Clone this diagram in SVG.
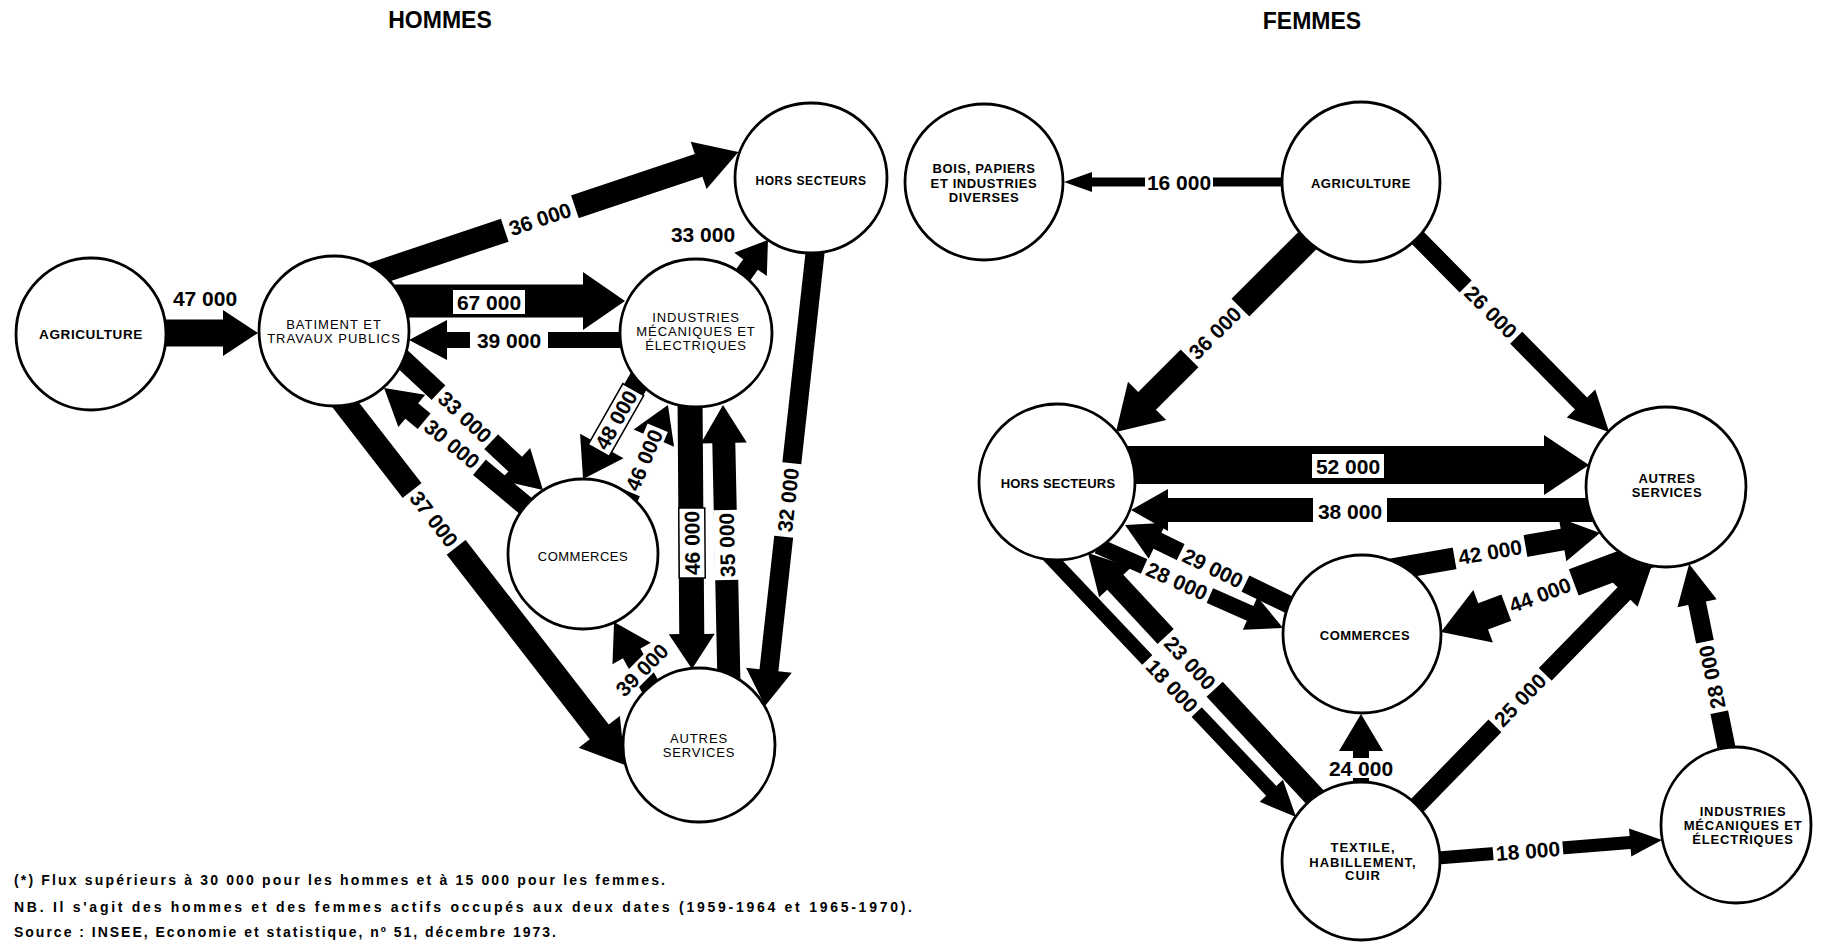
<svg xmlns="http://www.w3.org/2000/svg" width="1823" height="945" viewBox="0 0 1823 945">
<style>
.nd ellipse{fill:#fff;stroke:#000;stroke-width:2.8}
.ar path{fill:#000}
.gp{fill:#fff}
.bx{fill:#fff;stroke:#000;stroke-width:1.5}
.v{font-family:"Liberation Sans",Arial,sans-serif;font-weight:bold;font-size:21px;text-anchor:middle;fill:#000}
.lr{font-family:"Liberation Sans",Arial,sans-serif;font-size:13px;text-anchor:middle;fill:#000;letter-spacing:0.9px}
.lb{font-family:"Liberation Sans",Arial,sans-serif;font-weight:bold;font-size:13px;text-anchor:middle;fill:#000;letter-spacing:0.6px}
.tt{font-family:"Liberation Sans",Arial,sans-serif;font-weight:bold;font-size:23px;text-anchor:middle;fill:#000}
.fn{font-family:"Liberation Sans",Arial,sans-serif;font-weight:bold;font-size:14px;fill:#000}
</style>
<rect width="1823" height="945" fill="#fff"/>
<text class="tt" x="440" y="28">HOMMES</text>
<text class="tt" x="1312" y="29">FEMMES</text>

<g id="connectors">
<g class="ar">
<!-- HOMMES -->
<path transform="translate(166,333)" d="M0,-13.5H57V-23L92,0L57,23V13.5H0Z"/>
<path transform="translate(368.6,275.8) rotate(-18.5)" d="M0,-12H348V-25L390,0L348,25V12H0Z"/>
<path transform="translate(395,301)" d="M0,-16.5H188V-29L230,0L188,29V16.5H0Z"/>
<path transform="translate(632,340) rotate(180)" d="M0,-8H185V-20L223,0L185,20V8H0Z"/>
<path transform="translate(738,282) rotate(-54.5)" d="M0,-9H21.6V-20L51.6,0L21.6,20V9H0Z"/>
<path transform="translate(817,235) rotate(96.3)" d="M0,-9.5H437.9V-23L473.9,0L437.9,23V9.5H0Z"/>
<path transform="translate(690,395) rotate(89.58)" d="M0,-12.5H239V-23L274,0L239,23V12.5H0Z"/>
<path transform="translate(729,685) rotate(-91.23)" d="M0,-11.5H242.1V-23L280.1,0L242.1,23V11.5H0Z"/>
<path transform="translate(397,354) rotate(42.97)" d="M0,-10H161.5V-22L199.5,0L161.5,22V10H0Z"/>
<path transform="translate(533,512) rotate(-140.2)" d="M0,-10H157.8V-21L193.8,0L157.8,21V10H0Z"/>
<path transform="translate(338,395) rotate(52.2)" d="M0,-12H426.3V-26L468.3,0L426.3,26V12H0Z"/>
<path transform="translate(645,370) rotate(119.6)" d="M0,-11H87.4V-25L125.4,0L87.4,25V11H0Z"/>
<path transform="translate(624,508) rotate(-66.9)" d="M0,-10H76V-22L112,0L76,22V10H0Z"/>
<path transform="translate(655,695) rotate(-119.3)" d="M0,-10H47.7V-22L83.7,0L47.7,22V10H0Z"/>
<!-- FEMMES -->
<path transform="translate(1290,182) rotate(180)" d="M0,-4.5H198V-10L226,0L198,10V4.5H0Z"/>
<path transform="translate(1318,230) rotate(135)" d="M0,-12.5H241.7V-27L285.7,0L241.7,27V12.5H0Z"/>
<path transform="translate(1408,228) rotate(45.4)" d="M0,-8.5H246.4V-20L286.4,0L246.4,20V8.5H0Z"/>
<path transform="translate(1120,465)" d="M0,-19H424V-30L469,0L424,30V19H0Z"/>
<path transform="translate(1600,510) rotate(180)" d="M0,-12H432V-21L469,0L432,21V12H0Z"/>
<path transform="translate(1388,570) rotate(-9.9)" d="M0,-11H177.2V-22L215.2,0L177.2,22V11H0Z"/>
<path transform="translate(1655,552) rotate(159.5)" d="M0,-14H183.5V-28L228.5,0L183.5,28V14H0Z"/>
<path transform="translate(1300,610) rotate(-154.1)" d="M0,-9H158.5V-20L194.5,0L158.5,20V9H0Z"/>
<path transform="translate(1098,546) rotate(23.9)" d="M0,-8H166.4V-18L202.4,0L166.4,18V8H0Z"/>
<path transform="translate(1325,808) rotate(-132.9)" d="M0,-11H308.1V-22L348.1,0L308.1,22V11H0Z"/>
<path transform="translate(1045,552) rotate(46.55)" d="M0,-7H329V-16L365,0L329,16V7H0Z"/>
<path transform="translate(1361,795) rotate(-90)" d="M0,-8H44V-22L81,0L44,22V8H0Z"/>
<path transform="translate(1405,818) rotate(-45.7)" d="M0,-9H313.6V-19L353.6,0L313.6,19V9H0Z"/>
<path transform="translate(1425,859) rotate(-4.58)" d="M0,-6.5H205.8V-14L237.8,0L205.8,14V6.5H0Z"/>
<path transform="translate(1729,760) rotate(-101.5)" d="M0,-9H160V-20L200,0L160,20V9H0Z"/>
</g>
<g id="labels">
<!-- HOMMES -->
<text class="v" x="205" y="306">47 000</text>
<g transform="translate(540,219) rotate(-18.5)"><rect class="gp" x="-37" y="-14" width="74" height="28"/><text class="v" y="7.5">36 000</text></g>
<g transform="translate(489,302)"><rect class="gp" x="-36" y="-12" width="72" height="24"/><text class="v" y="7.5">67 000</text></g>
<g transform="translate(509,340)"><rect class="gp" x="-39" y="-11" width="78" height="22"/><text class="v" y="7.5">39 000</text></g>
<text class="v" x="703" y="242">33 000</text>
<g transform="translate(788,500) rotate(-83.7)"><rect class="gp" x="-37" y="-12" width="74" height="24"/><text class="v" y="7.5">32 000</text></g>
<g transform="translate(692,543) rotate(-90.4)"><rect class="bx" x="-35" y="-13" width="70" height="26"/><text class="v" y="7.5">46 000</text></g>
<g transform="translate(727,545) rotate(-91.2)"><rect class="gp" x="-35" y="-13" width="70" height="26"/><text class="v" y="7.5">35 000</text></g>
<g transform="translate(465,417) rotate(43)"><rect class="gp" x="-36" y="-12" width="72" height="24"/><text class="v" y="7.5">33 000</text></g>
<g transform="translate(452,444) rotate(39.8)"><rect class="gp" x="-36" y="-12" width="72" height="24"/><text class="v" y="7.5">30 000</text></g>
<g transform="translate(434,519) rotate(52.2)"><rect class="gp" x="-36" y="-14" width="72" height="28"/><text class="v" y="7.5">37 000</text></g>
<g transform="translate(616,420) rotate(-60.4)"><rect class="bx" x="-35" y="-12" width="70" height="24"/><text class="v" y="7.5">48 000</text></g>
<g transform="translate(644,460) rotate(-66.9)"><rect class="gp" x="-35" y="-11" width="70" height="22"/><text class="v" y="7.5">46 000</text></g>
<g transform="translate(642,670) rotate(-45)"><rect class="gp" x="-35" y="-10" width="70" height="20"/><text class="v" y="7.5">39 000</text></g>
<!-- FEMMES -->
<g transform="translate(1179,182)"><rect class="gp" x="-34" y="-11" width="68" height="22"/><text class="v" y="7.5">16 000</text></g>
<g transform="translate(1215,333) rotate(-45)"><rect class="gp" x="-36" y="-14" width="72" height="28"/><text class="v" y="7.5">36 000</text></g>
<g transform="translate(1491,312) rotate(45.4)"><rect class="gp" x="-36" y="-10" width="72" height="20"/><text class="v" y="7.5">26 000</text></g>
<g transform="translate(1348,466)"><rect class="gp" x="-36" y="-12" width="72" height="24"/><text class="v" y="7.5">52 000</text></g>
<g transform="translate(1350,511)"><rect class="gp" x="-37" y="-13" width="74" height="26"/><text class="v" y="7.5">38 000</text></g>
<g transform="translate(1490,552) rotate(-9.9)"><rect class="gp" x="-36" y="-12" width="72" height="24"/><text class="v" y="7.5">42 000</text></g>
<g transform="translate(1540,595) rotate(-20.5)"><rect class="gp" x="-36" y="-15" width="72" height="30"/><text class="v" y="7.5">44 000</text></g>
<g transform="translate(1213,568) rotate(25.9)"><rect class="gp" x="-36" y="-10" width="72" height="20"/><text class="v" y="7.5">29 000</text></g>
<g transform="translate(1177,581) rotate(23.9)"><rect class="gp" x="-36" y="-9" width="72" height="18"/><text class="v" y="7.5">28 000</text></g>
<g transform="translate(1190,663) rotate(47.1)"><rect class="gp" x="-36" y="-12" width="72" height="24"/><text class="v" y="7.5">23 000</text></g>
<g transform="translate(1172,686) rotate(46.5)"><rect class="gp" x="-36" y="-8" width="72" height="16"/><text class="v" y="7.5">18 000</text></g>
<g transform="translate(1361,768)"><rect class="gp" x="-34" y="-10" width="68" height="20"/><text class="v" y="7.5">24 000</text></g>
<g transform="translate(1520,700) rotate(-45.7)"><rect class="gp" x="-36" y="-10" width="72" height="20"/><text class="v" y="7.5">25 000</text></g>
<g transform="translate(1528,851) rotate(-4.6)"><rect class="gp" x="-35" y="-8" width="70" height="16"/><text class="v" y="7.5">18 000</text></g>
<g transform="translate(1712,677) rotate(-101.5)"><rect class="gp" x="-36" y="-10" width="72" height="20"/><text class="v" y="7.5">28 000</text></g>
</g>
</g>

<g class="nd">
<g id="h-agriculture"><ellipse cx="91" cy="334" rx="75" ry="76"/><text class="lb" x="91" y="338.5" style="font-size:13.5px">AGRICULTURE</text></g>
<g id="h-batiment"><ellipse cx="334" cy="331" rx="75" ry="75"/><text class="lr" x="334" y="328.5" style="letter-spacing:1px">BATIMENT ET</text><text class="lr" x="334" y="343" style="letter-spacing:1px">TRAVAUX PUBLICS</text></g>
<g id="h-hors-secteurs"><ellipse cx="811" cy="178" rx="76" ry="75"/><text class="lb" x="811" y="184.5" style="font-size:12px">HORS SECTEURS</text></g>
<g id="h-industries"><ellipse cx="696" cy="333" rx="76" ry="74"/><text class="lr" x="696" y="321.5">INDUSTRIES</text><text class="lr" x="696" y="335.5">MÉCANIQUES ET</text><text class="lr" x="696" y="349.5">ÉLECTRIQUES</text></g>
<g id="h-commerces"><ellipse cx="583" cy="554" rx="75" ry="75"/><text class="lr" x="583" y="561" style="letter-spacing:0.5px">COMMERCES</text></g>
<g id="h-autres-services"><ellipse cx="699" cy="745" rx="76" ry="77"/><text class="lr" x="699" y="742.5">AUTRES</text><text class="lr" x="699" y="756.5">SERVICES</text></g>

<g id="f-bois"><ellipse cx="984" cy="182" rx="79" ry="78"/><text class="lb" x="984" y="172.5">BOIS, PAPIERS</text><text class="lb" x="984" y="187.5">ET INDUSTRIES</text><text class="lb" x="984" y="201.5">DIVERSES</text></g>
<g id="f-agriculture"><ellipse cx="1361" cy="182" rx="79" ry="80"/><text class="lb" x="1361" y="187.5">AGRICULTURE</text></g>
<g id="f-hors-secteurs"><ellipse cx="1057" cy="482" rx="78" ry="78"/><text class="lb" x="1058" y="487.5" style="letter-spacing:0.2px">HORS SECTEURS</text></g>
<g id="f-autres-services"><ellipse cx="1666" cy="487" rx="80" ry="80"/><text class="lb" x="1667" y="483">AUTRES</text><text class="lb" x="1667" y="497">SERVICES</text></g>
<g id="f-commerces"><ellipse cx="1362" cy="634" rx="79" ry="79"/><text class="lb" x="1365" y="639.5" style="letter-spacing:0.5px">COMMERCES</text></g>
<g id="f-textile"><ellipse cx="1361" cy="861" rx="79" ry="79"/><text class="lb" x="1363" y="851.5" style="letter-spacing:1px">TEXTILE,</text><text class="lb" x="1363" y="866.5" style="letter-spacing:1px">HABILLEMENT,</text><text class="lb" x="1363" y="879.5" style="letter-spacing:1px">CUIR</text></g>
<g id="f-industries"><ellipse cx="1736" cy="825" rx="75" ry="78"/><text class="lb" x="1743" y="815.5" style="letter-spacing:0.8px">INDUSTRIES</text><text class="lb" x="1743" y="829.5" style="letter-spacing:0.8px">MÉCANIQUES ET</text><text class="lb" x="1743" y="843.5" style="letter-spacing:0.8px">ÉLECTRIQUES</text></g>
</g>

<g id="notes">
<text class="fn" x="14" y="885" textLength="651" lengthAdjust="spacing">(*)  Flux supérieurs à 30 000 pour les hommes et à 15 000 pour les femmes.</text>
<text class="fn" x="14" y="912" textLength="898" lengthAdjust="spacing">NB. Il s'agit des hommes et des femmes actifs occupés aux deux dates (1959-1964 et 1965-1970).</text>
<text class="fn" x="14" y="937" textLength="542" lengthAdjust="spacing">Source : INSEE, Economie et statistique, nº 51, décembre 1973.</text>
</g>
</svg>
